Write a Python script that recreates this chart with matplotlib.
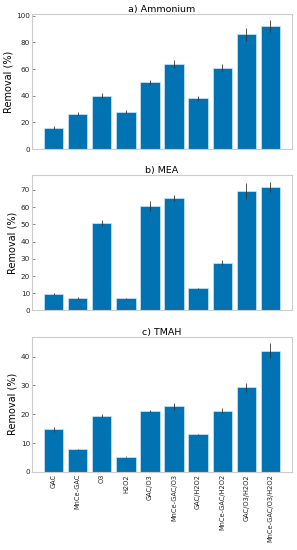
import numpy as np
import matplotlib
matplotlib.use("Agg")
import matplotlib.pyplot as plt

# treatments
labels = ["GAC", "MnCe-GAC", "O3", "H2O2", "GAC/O3", "MnCe-GAC/O3",
          "GAC/H2O2", "MnCe-GAC/H2O2", "GAC/O3/H2O2", "MnCe-GAC/O3/H2O2"]

# removal (%) and error
ammonium = [16, 26.5, 40, 28, 50, 64, 38, 61, 86, 92]
ammonium_err = [1, 1, 2, 1, 2, 3, 2, 2.5, 5, 4.5]

mea = [9.5, 7.2, 50.8, 7, 60.5, 65.3, 12.8, 27.8, 69.5, 71.7]
mea_err = [0.5, 0.5, 2, 0.3, 3, 2, 0.4, 1.5, 4.5, 3]

tmah = [14.8, 7.8, 19.5, 5.2, 21, 22.8, 13, 21.2, 29.3, 42]
tmah_err = [0.8, 0.3, 0.6, 0.2, 0.4, 1.2, 0.3, 0.8, 1.5, 2.6]

panels = [("a) Ammonium", ammonium, ammonium_err),
          ("b) MEA", mea, mea_err),
          ("c) TMAH", tmah, tmah_err)]

fig, axes = plt.subplots(3, 1, figsize=(2.97, 5.5), dpi=100, sharex=True)
plt.subplots_adjust(left=0.108, right=0.983, top=0.9745, bottom=0.142, hspace=0.195)

x = np.arange(len(labels))
for ax, (title, vals, errs) in zip(axes, panels):
    ax.bar(x, vals, width=0.8, color="#0173B2", edgecolor="#cde6f5", linewidth=0.5,
           yerr=errs, error_kw=dict(ecolor="#333333", elinewidth=0.6, capsize=0))
    ax.set_title(title, fontsize=6.8, pad=1.5)
    ax.set_ylabel("Removal (%)", fontsize=7, labelpad=2)
    ax.tick_params(axis="both", labelsize=5.2, length=2, width=0.5, direction="in",
                   pad=1.5, color="#555555", labelcolor="#222222")
    for s in ax.spines.values():
        s.set_color("#cccccc")
        s.set_linewidth(0.8)
    ax.set_xlim(-0.9, 9.9)

axes[0].set_yticks([0, 20, 40, 60, 80, 100])
axes[1].set_yticks([0, 10, 20, 30, 40, 50, 60, 70])
axes[2].set_yticks([0, 10, 20, 30, 40])
axes[2].set_xticks(x)
axes[2].set_xticklabels(labels, rotation=90, fontsize=4.8)

fig.savefig("out.png", dpi=100)
